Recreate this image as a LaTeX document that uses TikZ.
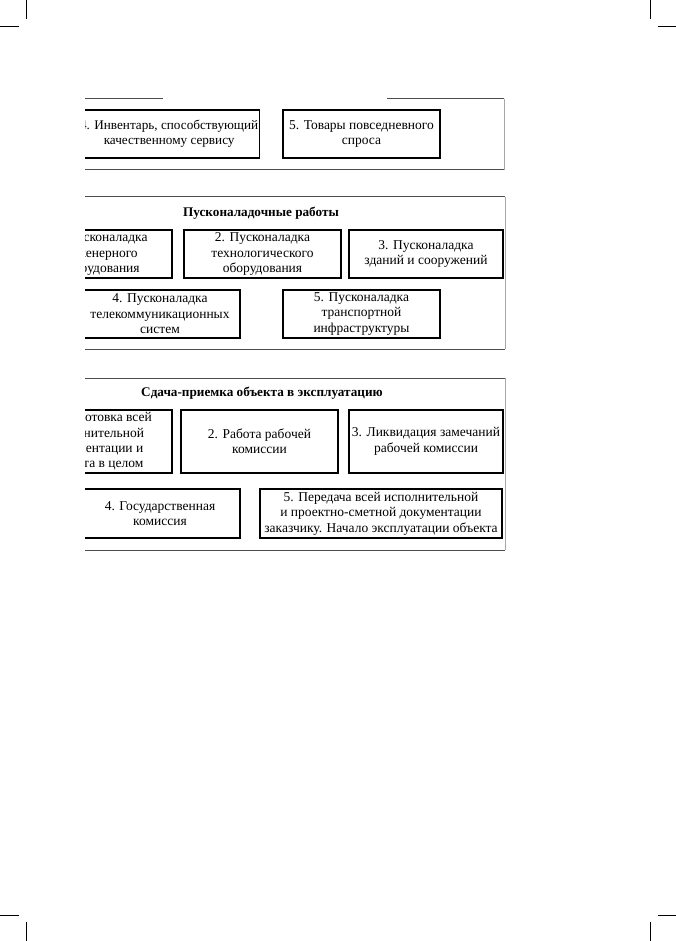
\documentclass[tikz,border=0pt]{standalone}
\usepackage{fontspec}
\setmainfont{Liberation Serif}
\begin{document}
\begin{tikzpicture}[x=1pt,y=-1pt,
  box/.style={draw=black,line width=1.5pt,inner sep=2pt,align=center,
    font=\fontsize{13.5}{15.4}\selectfont},
  ttl/.style={font=\fontsize{13.2}{15.8}\selectfont\bfseries},
  frame/.style={draw=black!70,line width=1pt},
  sideframe/.style={draw=black!35,line width=1pt},
  crop/.style={draw=black,line width=0.8pt}]
\useasboundingbox (0,0) rectangle (676,941);
% crop marks
\draw[crop] (26,0) -- (26,19);
\draw[crop] (0,26) -- (19,26);
\draw[crop] (650,0) -- (650,19);
\draw[crop] (658,26) -- (676,26);
\draw[crop] (0,915) -- (19,915);
\draw[crop] (26,922) -- (26,941);
\draw[crop] (658,915) -- (676,915);
\draw[crop] (650,922) -- (650,941);
\begin{scope}
\clip (85,0) rectangle (676,941);
% ---------- panel 1
\coordinate (p1a) at (85,99);
\coordinate (p1b) at (163,99);
\coordinate (p1c) at (387,99);
\coordinate (p1d) at (504,99);
\coordinate (p1e) at (504,170);
\coordinate (p1f) at (85,170);
\draw[frame] (p1a) -- (p1b);
\draw[frame] (p1c) -- (p1d);
\draw[sideframe] (p1d) -- (p1e);
\draw[frame] (p1e) -- (p1f);
\node[box,anchor=east,inner xsep=1pt,minimum height=48pt,
  font=\fontsize{13.2}{15.4}\selectfont] (a4) at (260,134)
  {4. Инвентарь, способствующий\\качественному сервису};
\node[box,minimum width=157pt,minimum height=48pt] (a5) at (361.5,134)
  {5. Товары повседневного\\спроса};
% ---------- panel 2
\coordinate (p2a) at (85,197);
\coordinate (p2b) at (505,197);
\coordinate (p2c) at (505,349);
\coordinate (p2d) at (85,349);
\draw[frame] (p2a) -- (p2b);
\draw[sideframe] (p2b) -- (p2c);
\draw[frame] (p2c) -- (p2d);
\node[ttl] (t2) at (261,213) {Пусконаладочные работы};
\node[box,minimum width=144pt,minimum height=48pt] (b1) at (100,254)
  {1. Пусконаладка\\инженерного\\оборудования};
\node[box,minimum width=157pt,minimum height=48pt] (b2) at (262.5,254)
  {2. Пусконаладка\\технологического\\оборудования};
\node[box,minimum width=154pt,minimum height=48pt] (b3) at (426,254)
  {3. Пусконаладка\\зданий и сооружений};
\node[box,minimum width=160pt,minimum height=48pt] (b4) at (160,314)
  {4. Пусконаладка\\телекоммуникационных\\систем};
\node[box,minimum width=157pt,minimum height=48pt] (b5) at (361.5,314)
  {5. Пусконаладка\\транспортной\\инфраструктуры};
% ---------- panel 3
\coordinate (p3a) at (85,378);
\coordinate (p3b) at (505,378);
\coordinate (p3c) at (505,550);
\coordinate (p3d) at (85,550);
\draw[frame] (p3a) -- (p3b);
\draw[sideframe] (p3b) -- (p3c);
\draw[frame] (p3c) -- (p3d);
\node[ttl] (t3) at (262,393) {Сдача-приемка объекта в эксплуатацию};
\node[box,minimum width=150pt,minimum height=63pt] (c1) at (97,441.5)
  {1. Подготовка всей\\исполнительной\\документации и\\объекта в целом};
\node[box,minimum width=157pt,minimum height=63pt] (c2) at (259.5,441.5)
  {2. Работа рабочей\\комиссии};
\node[box,minimum width=154pt,minimum height=63pt] (c3) at (426,441.5)
  {3. Ликвидация замечаний\\рабочей комиссии};
\node[box,minimum width=160pt,minimum height=49pt] (c4) at (160,513.5)
  {4. Государственная\\комиссия};
\node[box,minimum width=242pt,minimum height=49pt,inner sep=0.5pt] (c5) at (381,513.5)
  {5. Передача всей исполнительной\\и проектно-сметной документации\\заказчику. Начало эксплуатации объекта};
\end{scope}
\end{tikzpicture}
\end{document}
